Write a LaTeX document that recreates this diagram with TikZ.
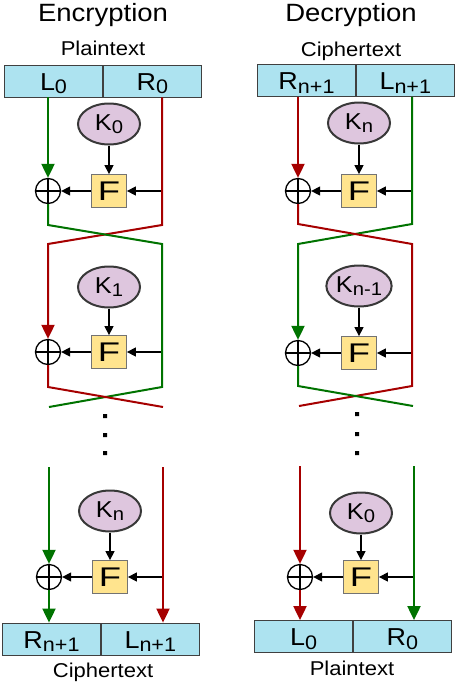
\documentclass[tikz,border=0pt]{standalone}
\usepackage{fontspec}
\setmainfont{Liberation Sans}[FakeStretch=1.1]
\newfontfamily\widefont{Liberation Sans}[FakeStretch=1.35]
\usepackage{tikz}
\usetikzlibrary{arrows.meta}
\usetikzlibrary{positioning}
\usetikzlibrary{shapes.geometric}
\colorlet{wiregreen}{green!45!black}
\colorlet{wirered}{red!65!black}
\definecolor{halfblue}{RGB}{173,227,240}
\definecolor{keypink}{RGB}{222,198,222}
\definecolor{fyellow}{RGB}{255,228,142}
\newcommand\ix[1]{\raisebox{-.15em}{\scalebox{.8}{#1}}}
\tikzstyle{titletext}=[anchor=base,font=\fontsize{25}{28}\selectfont]
\tikzstyle{captiontext}=[anchor=base,font=\fontsize{20}{24}\selectfont]
\tikzstyle{half}=[draw=black!75,fill=halfblue,line width=.8pt,minimum width=98pt,minimum height=32pt,inner sep=0pt,text height=18pt,text depth=0pt,font=\fontsize{24.5}{28}\selectfont]
\tikzstyle{keynode}=[ellipse,draw=black!78,line width=2pt,fill=keypink,minimum width=62pt,minimum height=41pt,inner sep=0pt,text height=12pt,text depth=0pt,font=\fontsize{23}{26}\selectfont]
\tikzstyle{fnode}=[draw=black!55,fill=fyellow,line width=.8pt,minimum width=35pt,minimum height=33pt,inner sep=0pt,text height=19pt,text depth=0pt,font=\widefont\fontsize{27}{30}\selectfont]
\tikzstyle{xornode}=[circle,draw,line width=1.3pt,minimum size=25pt,inner sep=0pt]
\tikzstyle{wirehead}=[>/.tip={Triangle[length=14pt,width=13pt]}]
\tikzstyle{gwire}=[line width=2pt,wiregreen,wirehead]
\tikzstyle{rwire}=[line width=2pt,wirered,wirehead]
\tikzstyle{blk}=[line width=1.3pt,->,>/.tip={Triangle[length=9pt,width=9pt]}]
% one round: prefix, x of the xor wire, y of the key, y of F, key
\newcommand\feistel[5]{%
  \node[keynode] (#1k) at (#2+61,#3) {#5};
  \node[fnode]   (#1f) at (#2+61,#4) {F};
  \node[xornode] (#1x) at (#2,#4) {};
  \coordinate    (#1t) at (#2+114,#4);
  \draw[line width=1.3pt] (#1x.north) -- (#1x.south) (#1x.west) -- (#1x.east);
  \draw[blk] (#1k) -- (#1f);
  \draw[blk] (#1t) -- (#1f);
  \draw[blk] (#1f) -- (#1x);
}

\begin{document}
\begin{tikzpicture}[x=1pt,y=-1pt]
	\useasboundingbox (0,0) rectangle (455,683);
	% encryption
	\node[titletext]   (etitle) at (103,21) {Encryption};
	\node[captiontext] (ein)    at (103,55) {Plaintext};
	\node[half] (eL0) at (53.5,81) {L\ix{0}};
	\node[half,right=0pt of eL0] (eR0) {R\ix{0}};
	\feistel{ea}{48}{124}{191}{K\ix{0}}
	\feistel{eb}{48}{287}{352}{K\ix{1}}
	\feistel{ec}{49}{511}{577}{K\ix{n}}
	\node[half] (eRn) at (51.5,639) {R\ix{n+1}};
	\node[half,right=0pt of eRn] (eLn) {L\ix{n+1}};
	\node[captiontext] (eout) at (103,677) {Ciphertext};
	\coordinate (e1nw) at (48,225);  \coordinate (e1ne) at (162,225);
	\coordinate (e1sw) at (48,244);  \coordinate (e1se) at (162,244);
	\coordinate (e2nw) at (48,387);  \coordinate (e2ne) at (162,387);
	\coordinate (e2sw) at (49,407);  \coordinate (e2se) at (163,407);
	\coordinate (e3l)  at (49,467);  \coordinate (e3r)  at (163,467);
	\draw[gwire,->] (eL0.south -| eax) -- (eax.north);
	\draw[rwire,->] (eR0.south -| eat) -- (e1ne) -- (e1sw) -- (ebx.north);
	\draw[gwire] (eax.south) -- (e1nw) -- (e1se) -- (e2ne) -- (e2sw);
	\draw[rwire] (ebx.south) -- (e2nw) -- (e2se);
	\draw[gwire,->] (e3l) -- (ecx.north);
	\draw[gwire,->] (ecx.south) -- (ecx.south |- eRn.north);
	\draw[rwire,->] (e3r) -- (e3r |- eLn.north);
	\fill (103,414) rectangle ++(4,4) (103,433) rectangle ++(4,4) (103,451) rectangle ++(4,4);
	% decryption
	\node[titletext]   (dtitle) at (351,21) {Decryption};
	\node[captiontext] (din)    at (351,56) {Ciphertext};
	\node[half] (dRn) at (306.5,80.5) {R\ix{n+1}};
	\node[half,right=0pt of dRn] (dLn) {L\ix{n+1}};
	\feistel{da}{298}{123}{191}{K\ix{n}}
	\feistel{db}{298}{286}{353}{K\ix{n-1}}
	\feistel{dc}{300}{513}{577}{K\ix{0}}
	\node[half] (dL0) at (303.5,636.5) {L\ix{0}};
	\node[half,right=0pt of dL0] (dR0) {R\ix{0}};
	\node[captiontext] (dout) at (352,675) {Plaintext};
	\coordinate (d1nw) at (298,224); \coordinate (d1ne) at (412,224);
	\coordinate (d1sw) at (298,244); \coordinate (d1se) at (412,244);
	\coordinate (d2nw) at (298,386); \coordinate (d2ne) at (412,386);
	\coordinate (d2sw) at (299,406); \coordinate (d2se) at (413,406);
	\coordinate (d3l)  at (300,466); \coordinate (d3r)  at (414,466);
	\draw[rwire,->] (dRn.south -| dax) -- (dax.north);
	\draw[gwire,->] (dLn.south -| dat) -- (d1ne) -- (d1sw) -- (dbx.north);
	\draw[rwire] (dax.south) -- (d1nw) -- (d1se) -- (d2ne) -- (d2sw);
	\draw[gwire] (dbx.south) -- (d2nw) -- (d2se);
	\draw[rwire,->] (d3l) -- (dcx.north);
	\draw[rwire,->] (dcx.south) -- (dcx.south |- dL0.north);
	\draw[gwire,->] (d3r) -- (d3r |- dR0.north);
	\fill (355,412) rectangle ++(4,4) (355,432) rectangle ++(4,4) (355,451) rectangle ++(4,4);
\end{tikzpicture}
\end{document}
